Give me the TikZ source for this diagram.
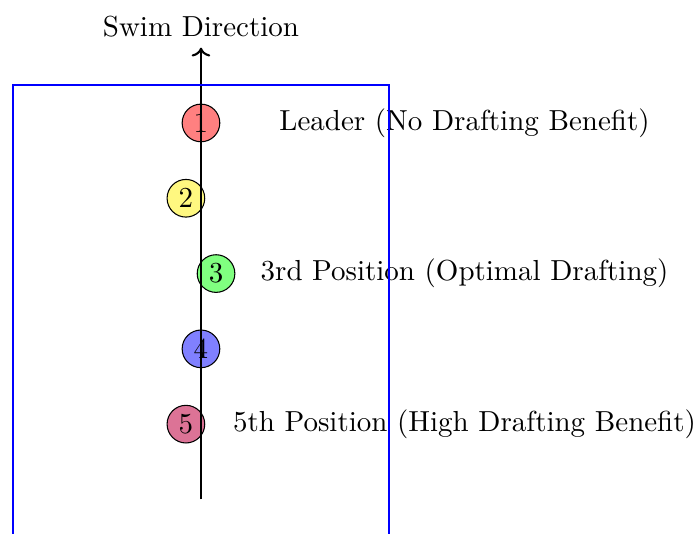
\documentclass[tikz,border=0pt,11pt]{standalone}
\usepackage{xcolor}
\usepackage{tikz}
\usetikzlibrary{arrows.meta, positioning}

\begin{document}
\begin{tikzpicture}[
        swimmer/.style={circle, draw=black, minimum size=0.5cm, inner sep=0pt},
        lbl/.style={anchor=center},
        lane/.style={draw=blue, thick},
        dir/.style={->, thick, black},
      ]
        \useasboundingbox (-2.669, 1.633) rectangle (6.574, -5.458);

        \foreach \i/\x/\c in {1/0/red!50, 2/-0.2/yellow!50, 3/0.2/green!50,
                              4/0/blue!50, 5/-0.2/purple!55}
          \node[swimmer, fill=\c] (s\i) at (\x, 1-\i) {\i};

        \coordinate (tail) at (0, -5);
        \coordinate (head) at (0, 1);
        \draw[dir] (tail) -- (head);
        \node[above] (dirlbl) at (head) {Swim Direction};

        \node[lbl] (l1) at (3.5,  0) {Leader (No Drafting Benefit)};
        \node[lbl] (l3) at (3.5, -2) {3rd Position (Optimal Drafting)};
        \node[lbl] (l5) at (3.5, -4) {5th Position (High Drafting Benefit)};

        \draw[lane] (-2.5, -5.5) -- (-2.5, 0.5) -- (2.5, 0.5) -- (2.5, -5.5);
      \end{tikzpicture}
\end{document}
